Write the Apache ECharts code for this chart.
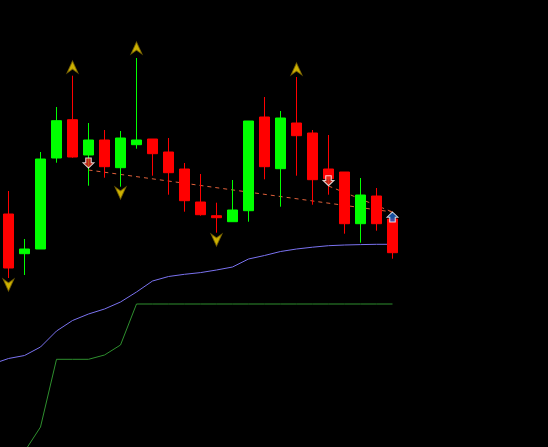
<!DOCTYPE html>
<html>
<head>
<meta charset="utf-8">
<script src="https://cdn.jsdelivr.net/npm/echarts@6/dist/echarts.min.js"></script>
<style>
html,body{margin:0;padding:0;background:#000;}
#c{width:548px;height:447px;}
</style>
</head>
<body>
<div id="c"></div>
<script>
// Bar labels
const bars = ['B0','B1','B2','B3','B4','B5','B6','B7','B8','B9','B10','B11','B12','B13','B14','B15','B16','B17','B18','B19','B20','B21','B22','B23','B24'];
// OHLC values as [open, close, low, high]
const ohlc = [
  [233, 179, 169, 256],
  [193.3, 198, 172, 208],
  [198, 288, 198, 295],
  [289, 326.3, 284.3, 340],
  [327.3, 290, 289.3, 371.3],
  [292, 307, 261.3, 324],
  [307, 280.3, 269.3, 317],
  [279.3, 309, 260.3, 316],
  [302.3, 307, 298.3, 389],
  [308, 293.3, 271.3, 308],
  [295, 274.3, 252.3, 309],
  [278, 246.3, 235.3, 284],
  [245, 232.3, 231.3, 273],
  [231.3, 229.3, 214.3, 244.3],
  [225.3, 237, 225.3, 267],
  [236.3, 326, 225.3, 326],
  [330, 280.3, 267.7, 350],
  [278.3, 329, 240.3, 336],
  [324, 311.3, 271.3, 370],
  [314, 267.3, 242.3, 317],
  [278, 268.3, 252.3, 312],
  [275, 223.3, 213.3, 275],
  [223.3, 252, 204.3, 269],
  [251, 223.3, 216.3, 259],
  [228, 194.3, 188.3, 228]
];
// Bar positions for the indicator lines (the first one is the bar before the visible window)
const lineIdx = [-1, 0, 1, 2, 3, 4, 5, 6, 7, 8, 9, 10, 11, 12, 13, 14, 15, 16, 17, 18, 19, 20, 21, 22, 23, 24];
// Moving-average style line (blue)
const maLine = [83, 88.5, 91.5, 100, 116, 126.5, 133, 138, 145, 155, 166, 170.5, 172.7, 174.4, 177, 180, 188, 191.5, 195.5, 198, 199.8, 201.3, 202, 202.4, 202.7, 202.7];
// Step-like indicator line (green)
const stepLine = [-73, -29, -4.6, 20, 87.7, 87.7, 87.7, 92, 102, 143, 143, 143, 143, 143, 143, 143, 143, 143, 143, 143, 143, 143, 143, 143, 143, 143];
// Fractal-style markers [barIndex, price]
const upFractals = [[4, 380], [8, 399], [18, 378]];
const downFractals = [[0, 162], [7, 254], [13, 207]];
// Signal markers
const sellSignals = [[5, 284], [20, 266.3]];
const buySignals = [[24, 230]];
// Dashed trend lines [barIndex, price]
const trendA = [[5, 277], [24, 235]];
const trendB = [[20, 261], [24, 235]];

const upHead = 'path://M5,0 L10,11 L5,7.5 L0,11 Z';
const downHead = 'path://M0,0 L5,3.5 L10,0 L5,11 Z';
const blockDown = 'path://M2.5,0 L7.5,0 L7.5,4.5 L10,4.5 L5,9.5 L0,4.5 L2.5,4.5 Z';
const blockUp = 'path://M5,0 L10,5 L7.5,5 L7.5,9.5 L2.5,9.5 L2.5,5 L0,5 Z';

const pairs = (xs, ys) => xs.map((x, k) => [x, ys[k]]);

const chart = echarts.init(document.getElementById('c'), null, {renderer: 'canvas'});
chart.setOption({
  backgroundColor: '#000000',
  animation: false,
  grid: {left: 0.5, right: 147.5, top: 0, bottom: 0},
  xAxis: [
    {
      type: 'category', data: bars, boundaryGap: true,
      axisLine: {show: false}, axisTick: {show: false}, axisLabel: {show: false}, splitLine: {show: false}
    },
    {
      type: 'value', min: -0.5, max: 24.5, show: false, splitLine: {show: false}
    }
  ],
  yAxis: {
    type: 'value', min: 0, max: 447,
    axisLine: {show: false}, axisTick: {show: false}, axisLabel: {show: false}, splitLine: {show: false}
  },
  series: [
    {
      type: 'line', xAxisIndex: 1, data: pairs(lineIdx, stepLine), symbol: 'none', clip: true,
      lineStyle: {color: '#2e8f2e', width: 1}, z: 1
    },
    {
      type: 'line', xAxisIndex: 1, data: pairs(lineIdx, maLine), symbol: 'none', clip: true,
      lineStyle: {color: '#7a72f0', width: 1}, z: 1
    },
    {
      type: 'line', xAxisIndex: 1, data: trendA, symbol: 'none',
      lineStyle: {color: '#e0603a', width: 1, type: [4, 4]}, z: 2
    },
    {
      type: 'line', xAxisIndex: 1, data: trendB, symbol: 'none',
      lineStyle: {color: '#e0603a', width: 1, type: [4, 4]}, z: 2
    },
    {
      type: 'candlestick', data: ohlc, barWidth: 10,
      itemStyle: {color: '#00ff00', color0: '#ff0000', borderColor: '#00ff00', borderColor0: '#ff0000', borderWidth: 1},
      z: 3
    },
    {
      type: 'scatter', data: upFractals, symbol: upHead, symbolSize: [11, 12],
      itemStyle: {color: '#ffdd00', borderColor: '#7a6400', borderWidth: 1}, z: 4
    },
    {
      type: 'scatter', data: downFractals, symbol: downHead, symbolSize: [11, 12],
      itemStyle: {color: '#ffdd00', borderColor: '#7a6400', borderWidth: 1}, z: 4
    },
    {
      type: 'scatter', data: sellSignals, symbol: blockDown, symbolSize: [11, 10],
      itemStyle: {color: '#e8301e', borderColor: '#ffffff', borderWidth: 1}, z: 5
    },
    {
      type: 'scatter', data: buySignals, symbol: blockUp, symbolSize: [11, 10],
      itemStyle: {color: '#1c64c8', borderColor: '#ffffff', borderWidth: 1}, z: 5
    }
  ]
});
</script>
</body>
</html>
